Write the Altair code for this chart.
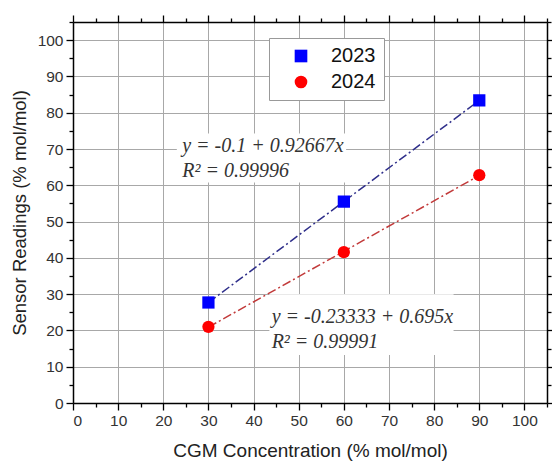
import altair as alt
import pandas as pd

# ---- data ----
conc = [30, 60, 90]
r2023 = [27.7, 55.5, 83.4]
r2024 = [21.0, 41.6, 62.8]
series_names = ["2023", "2024"]

eq_x = [24.2, 44.0]
eq_line1_y = [69.2, 22.0]
eq_line2_y = [62.4, 15.2]
eq_line1 = ["y = -0.1 + 0.92667x", "y = -0.23333 + 0.695x"]
eq_line2 = ["R\u00b2 = 0.99996", "R\u00b2 = 0.99991"]
box_x = [23.0, 43.5]
box_x2 = [60.5, 84.3]
box_y = [60.8, 13.2]
box_y2 = [74.3, 30.0]

df = pd.DataFrame({
    "x": conc * 2,
    "y": r2023 + r2024,
    "series": [series_names[0]] * 3 + [series_names[1]] * 3,
})
txt = pd.DataFrame({
    "x": eq_x * 2,
    "y": eq_line1_y + eq_line2_y,
    "t": eq_line1 + eq_line2,
})
boxes = pd.DataFrame({"x": box_x, "x2": box_x2, "y": box_y, "y2": box_y2})

DOM = [0, 105]
vals = list(range(0, 106, 5))
major = "datum.value % 10 === 0"
tick_size = {"condition": {"test": major, "value": 7}, "value": 4}
grid_op = {"condition": {"test": major + " && datum.value > 0 && datum.value <= 100", "value": 1}, "value": 0}
lab_expr = "datum.value % 10 === 0 && datum.value <= 100 ? datum.label : ''"

def main_axis(title, orient, tpad, tsize):
    return alt.Axis(
        title=title, orient=orient, values=vals, labelExpr=lab_expr,
        tickSize=tick_size, tickColor="black", tickWidth=1.3,
        domainColor="black", domainWidth=1.5,
        grid=True, gridColor="#a8a8a8", gridWidth=1, gridOpacity=grid_op,
        labelFont="Liberation Sans", labelFontSize=15.5, labelColor="#333333",
        titleFont="Liberation Sans", titleFontSize=tsize, titleColor="#222222",
        titleFontWeight="normal", labelPadding=3,
        labelOverlap=False, titlePadding=tpad,
    )

def side_axis(orient):
    return alt.Axis(
        title=None, orient=orient, values=vals, labels=False,
        tickSize=tick_size, tickColor="black", tickWidth=1.3,
        domainColor="black", domainWidth=1.5, grid=False,
    )

SC = alt.Scale(domain=DOM, nice=False, zero=False)
X = alt.X("x:Q", scale=SC, axis=main_axis("CGM Concentration (% mol/mol)", "bottom", 13, 19))
Y = alt.Y("y:Q", scale=SC, axis=main_axis("Sensor Readings (% mol/mol)", "left", 8, 18.5))

rects = alt.Chart(boxes).mark_rect(color="white").encode(
    x=X, x2="x2:Q", y=Y, y2="y2:Q")

lines = []
for name, col in zip(series_names, ["#2e2e8a", "#c23a3a"]):
    lines.append(
        alt.Chart(df).transform_filter(alt.datum.series == name)
        .transform_regression("x", "y")
        .mark_line(strokeDash=[9, 3, 2, 3], strokeWidth=1.5, color=col)
        .encode(x=X, y=Y)
    )

leg = alt.Legend(orient="none", legendX=196, legendY=16, title=None,
                 labelFont="Liberation Sans", labelFontSize=20,
                 labelColor="#111111", symbolSize=160,
                 strokeColor="#999999", fillColor="white",
                 padding=8, rowPadding=6, labelOffset=20,
                 symbolOffset=14)

points = alt.Chart(df).mark_point(filled=True, opacity=1, size=150).encode(
    x=X, y=Y,
    shape=alt.Shape("series:N", scale=alt.Scale(domain=series_names, range=["square", "circle"]),
                    legend=leg),
    color=alt.Color("series:N", scale=alt.Scale(domain=series_names, range=["#0000ff", "#ff0000"]),
                    legend=leg),
)

texts = alt.Chart(txt).mark_text(align="left", baseline="alphabetic", font="Liberation Serif",
                                 fontStyle="italic", fontSize=20, color="#333333").encode(
    x=X, y=Y, text="t:N")

inner = alt.layer(rects, *lines, points, texts)

frame = alt.Chart(df).mark_point(opacity=0).encode(
    x=alt.X("x:Q", scale=SC, axis=side_axis("top")),
    y=alt.Y("y:Q", scale=SC, axis=side_axis("right")),
)

chart = alt.layer(inner, frame).resolve_axis(
    x="independent", y="independent"
).properties(
    width=474, height=381,
    autosize=alt.AutoSizeParams(type="none"),
    padding={"left": 73, "top": 22, "right": 5, "bottom": 58},
).configure_view(stroke="black", strokeWidth=1.5).configure(background="white")

chart.save("out.html", embed_options={"renderer": "svg", "actions": False})
